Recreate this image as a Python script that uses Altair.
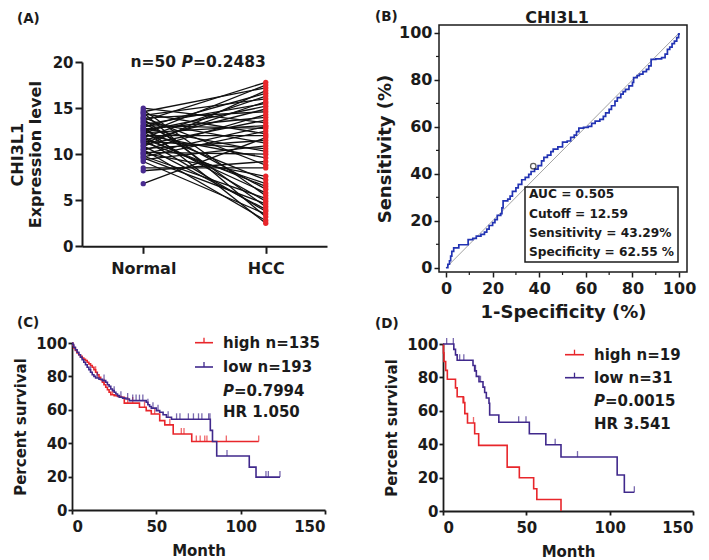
import altair as alt
import pandas as pd

FONT = "DejaVu Sans"
INK = "#1b1b1b"
RED = "#e8262b"
PURPLE = "#40298c"
DOT_PURPLE = "#4a2c90"
BLUE = "#2233b3"

# ---------------- data ----------------
# Panel A: paired expression values (Normal -> HCC), same order = same patient
groups_A = ["Normal", "HCC"]
normal_vals = [15.0, 14.8, 14.6, 14.5, 14.4, 14.2, 14.0, 13.9, 13.8, 13.6, 13.5, 13.4, 13.2,
               13.1, 13.0, 12.9, 12.8, 12.7, 12.6, 12.5, 12.4, 12.3, 12.2, 12.1, 12.0, 11.9,
               11.8, 11.7, 11.6, 11.5, 11.4, 11.3, 11.2, 11.0, 10.9, 10.8, 10.6, 10.5, 10.4,
               10.2, 10.1, 10.0, 9.8, 9.7, 9.6, 9.4, 9.2, 8.5, 8.2, 6.8]
hcc_vals = [13.4, 5.5, 17.2, 3.2, 12.2, 16.0, 8.8, 14.6, 4.3, 17.8, 11.2, 6.2, 15.5,
            12.8, 2.5, 16.6, 10.3, 14.0, 7.2, 15.2, 4.9, 13.1, 17.5, 9.6, 12.0, 5.8,
            16.3, 6.5, 3.8, 14.9, 10.6, 6.8, 15.7, 13.7, 4.0, 16.9, 11.5, 2.8, 14.3,
            10.0, 7.6, 13.0, 5.2, 12.5, 4.6, 10.9, 3.5, 8.5, 9.2, 11.8]
A_yticks = [0, 5, 10, 15, 20]

# Panel B: ROC curve
roc_fpr = [0, 0.8, 1.5, 2, 2.5, 3.3, 5, 5.5, 8.5, 9.5, 11.5, 13, 15, 16.5, 17.5, 18.5, 20, 21,
           22, 23.5, 24, 24.5, 26.5, 27.5, 28.5, 30, 31, 32.5, 34, 35.5, 36.5, 38, 39.5, 41,
           42, 43.5, 45, 46, 48, 50, 52, 53.5, 55, 56, 57, 59, 61, 62.5, 64, 66, 67.5, 68.5,
           70, 71, 72.5, 73.5, 75, 76, 77, 78.5, 80, 80.5, 82, 83, 84.5, 86, 87, 88, 90,
           92.5, 94, 95, 96, 97, 98, 99, 99.8, 100]
roc_tpr = [0, 1.5, 3, 5, 7, 8.5, 8.5, 9.8, 9.8, 12, 12.5, 13.5, 14.2, 15.2, 16.5, 18, 19.2,
           20.5, 22.3, 23, 25.5, 28.5, 29.2, 30.5, 32.5, 34, 35.5, 37.5, 38.5, 39.8, 41, 42,
           43.5, 45.5, 47, 48, 49.5, 50.5, 51.5, 53.5, 54, 55.5, 56.5, 58, 59.5, 59.8, 60.2,
           61.5, 62.5, 63.2, 64.5, 66, 67.5, 69, 71, 72.5, 74, 75, 76, 77.5, 79, 81, 81.8,
           82.5, 83.5, 84.5, 86, 88.8, 89, 89.5, 91, 93, 94, 95.5, 96.5, 98, 99.5, 100]
diag_pts = [0, 100]
cut_fpr = [37.45]
cut_tpr = [43.29]
roc_major = [0, 20, 40, 60, 80, 100]
roc_minor = [10, 30, 50, 70, 90]
roc_text = ["AUC = 0.505", "Cutoff = 12.59", "Sensitivity = 43.29%", "Specificity = 62.55 %"]

# Panels C and D: Kaplan-Meier curves
km_x_ticks = [0, 50, 100, 150]
km_y_ticks = [0, 20, 40, 60, 80, 100]

c_high_t = [0, 0.5, 1, 2, 3, 4, 5, 6, 7, 8, 9, 10, 11, 12, 13, 14, 15, 16, 17, 18, 19, 20,
            21, 22, 23, 25, 27, 29, 31, 40, 44, 47, 52, 55, 60, 71, 110.7]
c_high_s = [100, 98.5, 97, 95.5, 94, 93, 92, 91, 90.3, 89.5, 88.5, 87.5, 86.5, 85.5, 84, 82.5,
            81, 79.5, 78, 76.5, 75, 73.5, 72, 70.5, 69, 68.5, 68, 67.5, 64, 61.5, 59.5, 57.5,
            53.5, 51, 45.5, 41, 41]
c_high_cens = [14, 19, 24, 33, 36, 43, 49, 58, 64.8, 66.4, 73.7, 76, 78.7, 80, 91.5, 110.7]

c_low_t = [0, 0.5, 1, 2, 3, 4, 5, 6, 7, 8, 9, 10, 11, 12, 13, 14, 16, 18, 20, 21, 22, 23, 24,
           25, 26, 27, 28, 30, 32, 34, 44, 45, 46, 47, 50, 52, 54, 56, 59, 82, 83.3, 85.8,
           105.1, 109.1, 123.3]
c_low_s = [100, 99, 97.5, 96, 94.5, 93, 91.5, 90, 88.5, 87, 85.5, 84, 82.5, 81, 80, 79, 78.3,
           77.5, 76.5, 75, 74, 72.5, 71.5, 70.5, 69.5, 68.5, 67.5, 67, 66.5, 65.5, 64.5, 63,
           62, 61, 59.5, 58.5, 57, 55.5, 54.3, 47.7, 41, 32.3, 25.7, 19.7, 19.7]
c_low_cens = [11, 15, 19, 25, 29, 33, 36, 38, 40, 42, 45, 48, 51, 57, 62, 64, 69, 72, 75,
              77, 81, 81.8, 91.9, 115, 116.4, 123.3]

d_high_t = [0, 0.3, 0.6, 1.6, 2.6, 7.5, 8.5, 12.1, 13.1, 14.7, 19.0, 21.4, 38.5, 45.8,
            54.4, 56.3, 70.8]
d_high_s = [100, 94.7, 89.5, 84.2, 78.9, 73.7, 68.4, 64.9, 58.3, 52.7, 46.3, 39.3, 26.3,
            19.9, 13.3, 6.9, 0]
d_high_cens = [12.6, 18.3]

d_low_t = [0, 6.5, 7.5, 8.5, 18, 19, 20, 21.6, 24, 25, 26, 27.6, 28, 33.5, 51.8, 61.7,
           70.8, 104.5, 108.8, 114.8]
d_low_s = [100, 96.8, 93.5, 90.3, 87.1, 83.9, 80.6, 77.4, 74.2, 71.0, 67.7, 64.5, 57.5,
           53.1, 46.3, 39.7, 32.3, 21.6, 11.2, 11.2]
d_low_cens = [2.2, 6.2, 10, 12.5, 19.5, 22.5, 45.4, 49.8, 67.3, 80.7, 114.8]

c_legend = ["high n=135", "low n=193", "=0.7994", "HR 1.050"]
d_legend = ["high n=19", "low n=31", "=0.0015", "HR 3.541"]


# ---------------- helpers ----------------
def txt(s, x, y, size, align="left", baseline="alphabetic", style="normal", color=INK):
    return alt.Chart(pd.DataFrame({"s": [s]})).mark_text(
        align=align, baseline=baseline, fontSize=size, font=FONT, fontWeight="bold",
        fontStyle=style, color=color
    ).encode(x=alt.value(x), y=alt.value(y), text="s:N")


def seg(x1, y1, x2, y2, color=INK, width=1.5, opacity=1.0):
    return alt.Chart(pd.DataFrame({"k": [0]})).mark_rule(
        color=color, strokeWidth=width, opacity=opacity
    ).encode(x=alt.value(x1), x2=alt.value(x2), y=alt.value(y1), y2=alt.value(y2))


def anchor(x1, y1, x2, y2):
    # invisible layout guide: fixes the panel's extent around its plot area
    return seg(x1, y1, x2, y2, width=0.01, opacity=0)


def spacer():
    return anchor(0, 0, 0, 0).properties(width=1, height=1)


def surv_at(ts, ss, t):
    idx = 0
    for i, v in enumerate(ts):
        if v <= t:
            idx = i
    return ss[idx]


# ---------------- Panel A ----------------
wA, hA = 245, 184.3
dfA = pd.DataFrame({
    "pair": list(range(len(normal_vals))) * 2,
    "group": ["Normal"] * len(normal_vals) + ["HCC"] * len(hcc_vals),
    "value": normal_vals + hcc_vals,
})
xA = alt.X("group:N", sort=groups_A, scale=alt.Scale(type="point", padding=0.5),
           axis=alt.Axis(title=None, labelAngle=0, labelFontSize=16, tickSize=7, tickWidth=2,
                         domainWidth=2, labelPadding=7))
yA = alt.Y("value:Q", scale=alt.Scale(domain=[0, 20], nice=False),
           axis=alt.Axis(values=A_yticks, title=["CHI3L1", "Expression level"], titleFontSize=16,
                         titlePadding=9, labelFontSize=15, tickSize=7, tickWidth=2,
                         domainWidth=2, labelPadding=2))
linesA = alt.Chart(dfA).mark_line(color="#111111", strokeWidth=1.3).encode(
    x=xA, y=yA, detail="pair:N")
dotsN = alt.Chart(dfA).transform_filter(alt.datum.group == "Normal").mark_circle(
    size=28, opacity=1, color=DOT_PURPLE).encode(x=xA, y=yA)
dotsH = alt.Chart(dfA).transform_filter(alt.datum.group == "HCC").mark_circle(
    size=28, opacity=1, color=RED).encode(x=xA, y=yA)
panelA = alt.layer(
    anchor(-71, -52.7, 265, 268.3),
    linesA, dotsN, dotsH,
    txt("(A)", -65, -38.7, 13.5),
    txt("(C)", -65, 265.3, 13.5),
    txt("n=50", 94, 5, 15.5, align="right"),
    txt("P", 99.5, 5, 15.5, style="italic"),
    txt("=0.2483", 111, 5, 15.5),
).properties(width=wA, height=hA)

# ---------------- Panel B ----------------
wB, hB = 248, 247
dfROC = pd.DataFrame({"fpr": roc_fpr, "tpr": roc_tpr})
xB = alt.X("fpr:Q", scale=alt.Scale(domain=[-3, 103.4], nice=False, zero=False),
           axis=alt.Axis(values=roc_major, title="1-Specificity (%)", titleFontSize=18,
                         labelFontSize=16, tickSize=5, tickWidth=1.5, domain=False,
                         labelPadding=3, titlePadding=7))
yB = alt.Y("tpr:Q", scale=alt.Scale(domain=[-1.8, 103.4], nice=False, zero=False),
           axis=alt.Axis(values=roc_major, title="Sensitivity (%)", titleFontSize=18,
                         labelFontSize=16, tickSize=5, tickWidth=1.5, domain=False,
                         labelPadding=2, titlePadding=4))
diagB = alt.Chart(pd.DataFrame({"fpr": diag_pts, "tpr": diag_pts})).mark_line(
    color="#8a8a8a", strokeWidth=0.8).encode(x=xB, y=yB)
rocB = alt.Chart(dfROC).mark_line(interpolate="step-after", color=BLUE, strokeWidth=1.7).encode(
    x=xB, y=yB)
cutB = alt.Chart(pd.DataFrame({"fpr": cut_fpr, "tpr": cut_tpr})).mark_point(
    shape="circle", filled=False, size=30, color=INK, strokeWidth=1.3).encode(x=xB, y=yB)
minorY = alt.Chart(pd.DataFrame({"tpr": roc_minor})).mark_rule(color=INK, strokeWidth=1.2).encode(
    y=yB, x=alt.value(0), x2=alt.value(-3))
minorX = alt.Chart(pd.DataFrame({"fpr": roc_minor})).mark_rule(color=INK, strokeWidth=1.2).encode(
    x=xB, y=alt.value(hB), y2=alt.value(hB + 3))
boxB = alt.Chart(pd.DataFrame({"k": [0]})).mark_rect(
    fill="white", stroke=INK, strokeWidth=1.5).encode(
    x=alt.value(86), x2=alt.value(239), y=alt.value(162), y2=alt.value(237))
legB = [txt(s, 90, yy, 12.2, baseline="middle") for s, yy in zip(roc_text, [169, 188.7, 207.7, 226.7])]
panelB = alt.layer(
    anchor(-90, -15, wB, 307),
    diagB, rocB, cutB, minorY, minorX, boxB, *legB,
    txt("CHI3L1", 118, -2, 16, align="center"),
    txt("(B)", -64, -4, 13.5),
    txt("(D)", -64, 303, 13.5),
).properties(width=wB, height=hB, view=alt.ViewBackground(stroke=INK, strokeWidth=1.5))


# ---------------- Panels C and D ----------------
def km_panel(w, h, high_t, high_s, high_c, low_t, low_s, low_c, legend, lx1, lx2, tx, rows,
             anchor_box):
    x = alt.X("t:Q", scale=alt.Scale(domain=[0, 150], nice=False, zero=False),
              axis=alt.Axis(values=km_x_ticks, title="Month", titleFontSize=15, labelFontSize=15,
                            tickSize=4, tickWidth=1.8, domainWidth=1.8, labelPadding=5,
                            titlePadding=9))
    y = alt.Y("s:Q", scale=alt.Scale(domain=[0, 100], nice=False),
              axis=alt.Axis(values=km_y_ticks, title="Percent survival", titleFontSize=15,
                            labelFontSize=15, tickSize=4, tickWidth=1.8, domainWidth=1.8,
                            labelPadding=1, titlePadding=7))
    layers = [anchor(*anchor_box)]
    for ts, ss, cs, col in [(high_t, high_s, high_c, RED), (low_t, low_s, low_c, PURPLE)]:
        df = pd.DataFrame({"t": ts, "s": ss})
        dft = pd.DataFrame({"t": cs, "s": [surv_at(ts, ss, v) for v in cs]})
        layers.append(alt.Chart(df).mark_line(interpolate="step-after", strokeWidth=1.6,
                                              color=col).encode(x=x, y=y))
        layers.append(alt.Chart(dft).mark_tick(orient="vertical", size=6, thickness=1.3,
                                               yOffset=-3, color=col).encode(x=x, y=y))
    mid = (lx1 + lx2) / 2
    layers += [
        seg(lx1, rows[0], lx2, rows[0], RED, 1.6), seg(mid, rows[0] - 5, mid, rows[0], RED, 1.3),
        seg(lx1, rows[1], lx2, rows[1], PURPLE, 1.6), seg(mid, rows[1] - 5, mid, rows[1], PURPLE, 1.3),
        txt(legend[0], tx, rows[0], 15, baseline="middle"),
        txt(legend[1], tx, rows[1], 15, baseline="middle"),
        txt("P", tx, rows[2], 15, baseline="middle", style="italic"),
        txt(legend[2], tx + 11, rows[2], 15, baseline="middle"),
        txt(legend[3], tx, rows[3], 15, baseline="middle"),
    ]
    return alt.layer(*layers).properties(width=w, height=h)


panelC = km_panel(253, 167, c_high_t, c_high_s, c_high_cens, c_low_t, c_low_s, c_low_cens,
                  c_legend, 123, 141, 151, [-0.3, 24, 48, 69], (-63, -12, 273, 150))
panelD = km_panel(250, 167, d_high_t, d_high_s, d_high_cens, d_low_t, d_low_s, d_low_cens,
                  d_legend, 122, 141, 151, [10.7, 33.7, 57, 79.7], (-95, -11, 250, 150))

colA = alt.vconcat(spacer(), alt.hconcat(spacer(), panelA, spacing=0),
                   alt.hconcat(spacer(), panelC, spacing=0), spacing=0)
colB = alt.vconcat(spacer(), alt.hconcat(spacer(), panelB, spacing=0),
                   alt.hconcat(spacer(), panelD, spacing=0), spacing=0)

chart = alt.hconcat(colA, colB, spacing=0).properties(padding=0).configure_view(
    stroke=None
).configure_axis(
    labelFont=FONT, titleFont=FONT, labelFontWeight="bold", titleFontWeight="bold",
    labelColor=INK, titleColor=INK, domainColor=INK, tickColor=INK, grid=False,
    labelOverlap=False
)

chart.save("out.html", embed_options={"renderer": "svg", "actions": False})
